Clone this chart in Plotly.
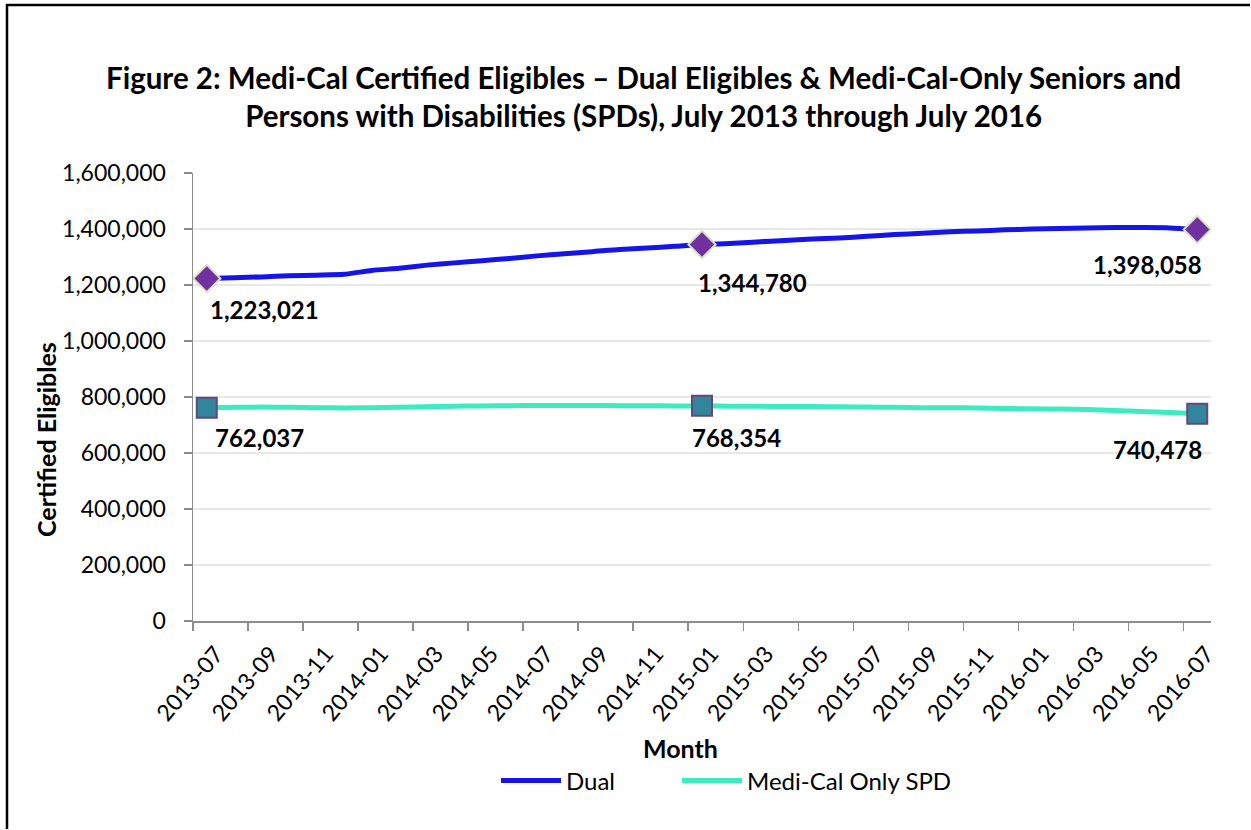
import plotly.graph_objects as go

months = [
    "2013-07", "2013-08", "2013-09", "2013-10", "2013-11", "2013-12",
    "2014-01", "2014-02", "2014-03", "2014-04", "2014-05", "2014-06",
    "2014-07", "2014-08", "2014-09", "2014-10", "2014-11", "2014-12",
    "2015-01", "2015-02", "2015-03", "2015-04", "2015-05", "2015-06",
    "2015-07", "2015-08", "2015-09", "2015-10", "2015-11", "2015-12",
    "2016-01", "2016-02", "2016-03", "2016-04", "2016-05", "2016-06",
    "2016-07",
]

dual = [
    1223021, 1226000, 1229000, 1233000, 1235000, 1238000,
    1252000, 1260000, 1271000, 1279000, 1287000, 1295000,
    1304000, 1312000, 1319000, 1327000, 1332000, 1338000,
    1344780, 1348000, 1354000, 1359000, 1364000, 1368000,
    1374000, 1380000, 1385000, 1390000, 1393000, 1397000,
    1400000, 1402000, 1404000, 1405000, 1405000, 1404000,
    1398058,
]

medi_cal_only_spd = [
    762037, 763000, 764000, 763000, 762000, 761000,
    762000, 763000, 765000, 767000, 768000, 769000,
    770000, 770000, 770000, 769000, 769000, 768000,
    768354, 767000, 767000, 766000, 766000, 765000,
    764000, 763000, 762000, 762000, 761000, 759000,
    758000, 757000, 755000, 752000, 748000, 745000,
    740478,
]

marker_idx = [0, 18, 36]
tick_label_idx = list(range(0, 37, 2))

title_text = ("Figure 2: Medi-Cal Certified Eligibles \u2013 Dual Eligibles &amp; Medi-Cal-Only Seniors and<br>"
              "Persons with Disabilities (SPDs), July 2013 through July 2016")

FONT = "Lato, 'Open Sans', sans-serif"
x = list(range(len(months)))

W, H = 1251, 830
ML, MR, MT, MB = 193, 40, 173, 209
pw, ph = W - ML - MR, H - MT - MB

def px_to_paper_x(px):
    return (px - ML) / pw

def px_to_paper_y(py):
    return (H - MB - py) / ph

fig = go.Figure()

fig.add_trace(go.Scatter(
    x=x, y=dual, name="Dual", mode="lines", legend="legend",
    line=dict(color="#1515EB", width=5, shape="spline", smoothing=0.6),
))
fig.add_trace(go.Scatter(
    x=x, y=medi_cal_only_spd, name="Medi-Cal Only SPD", mode="lines", legend="legend2",
    line=dict(color="#3DEBC0", width=5, shape="spline", smoothing=0.6),
))
fig.add_trace(go.Scatter(
    x=marker_idx, y=[dual[i] for i in marker_idx], mode="markers",
    showlegend=False, hoverinfo="skip",
    marker=dict(symbol="diamond", size=21, color="#7030A0",
                line=dict(color="#D7E4BD", width=2)),
))
fig.add_trace(go.Scatter(
    x=marker_idx, y=[medi_cal_only_spd[i] for i in marker_idx], mode="markers",
    showlegend=False, hoverinfo="skip",
    marker=dict(symbol="square", size=20, color="#31859C",
                line=dict(color="#604A7B", width=2)),
))
# invisible trace so the label axis is rendered
fig.add_trace(go.Scatter(
    x=[x[0]], y=[dual[0]], xaxis="x2", mode="markers",
    marker=dict(opacity=0), showlegend=False, hoverinfo="skip",
))

# data labels (anchored to data points)
dual_label_style = [("left", 1, -31), ("left", -6, -38), ("right", 7, -35)]
spd_label_style = [("left", 6, -30), ("left", -12, -32), ("right", 7, -36)]
for series, styles in ((dual, dual_label_style), (medi_cal_only_spd, spd_label_style)):
    for i, (anchor, xs, ys) in zip(marker_idx, styles):
        fig.add_annotation(
            x=i, y=series[i], xref="x", yref="y",
            text=f"<b>{series[i]:,}</b>", showarrow=False,
            xanchor=anchor, yanchor="middle", xshift=xs, yshift=ys,
            font=dict(family=FONT, size=24, color="#000000"),
        )

# title
fig.add_annotation(
    x=px_to_paper_x(643), y=px_to_paper_y(97), xref="paper", yref="paper",
    text=f"<b>{title_text}</b>", showarrow=False,
    xanchor="center", yanchor="middle", align="center",
    font=dict(family=FONT, size=29.5, color="#000000"),
)

# axis titles
fig.add_annotation(
    x=px_to_paper_x(46), y=px_to_paper_y(440), xref="paper", yref="paper",
    text="<b>Certified Eligibles</b>", textangle=-90, showarrow=False,
    xanchor="center", yanchor="middle",
    font=dict(family=FONT, size=25, color="#000000"),
)
fig.add_annotation(
    x=px_to_paper_x(680), y=px_to_paper_y(748), xref="paper", yref="paper",
    text="<b>Month</b>", showarrow=False,
    xanchor="center", yanchor="middle",
    font=dict(family=FONT, size=25, color="#000000"),
)

# outer border (top and left edges)
fig.add_shape(
    type="line", xref="paper", yref="paper",
    x0=px_to_paper_x(6), x1=px_to_paper_x(W - 1),
    y0=px_to_paper_y(5), y1=px_to_paper_y(5),
    line=dict(color="#000000", width=2.5), layer="above",
)
fig.add_shape(
    type="line", xref="paper", yref="paper",
    x0=px_to_paper_x(7), x1=px_to_paper_x(7),
    y0=px_to_paper_y(4), y1=px_to_paper_y(H - 1),
    line=dict(color="#000000", width=2.5), layer="above",
)

legend_common = dict(
    orientation="h", xanchor="left", yanchor="middle",
    y=px_to_paper_y(781),
    font=dict(family=FONT, size=24, color="#000000"),
    itemwidth=60, bgcolor="rgba(0,0,0,0)",
)

axis_gray = "#8C8C8C"
fig.update_layout(
    width=W, height=H,
    margin=dict(l=ML, r=MR, t=MT, b=MB),
    paper_bgcolor="#FFFFFF", plot_bgcolor="#FFFFFF",
    font=dict(family=FONT, color="#000000"),
    showlegend=True,
    legend=dict(x=px_to_paper_x(496), **legend_common),
    legend2=dict(x=px_to_paper_x(677), **legend_common),
    xaxis=dict(
        range=[-0.5, len(months) - 0.5],
        tickvals=[i - 0.5 for i in tick_label_idx],
        showticklabels=False, ticks="outside", ticklen=8, tickwidth=1.5,
        tickcolor=axis_gray, showline=True, linecolor=axis_gray, linewidth=1.5,
        showgrid=False, zeroline=False,
    ),
    xaxis2=dict(
        overlaying="x", matches="x", anchor="y", side="bottom",
        tickvals=tick_label_idx, ticktext=[months[i] for i in tick_label_idx],
        tickangle=-50, ticks="", showline=False, showgrid=False, zeroline=False,
        tickfont=dict(family=FONT, size=23, color="#000000"),
        ticklabelstandoff=14, ticklabelshift=9,
    ),
    yaxis=dict(
        range=[0, 1600000], dtick=200000, tickformat=",",
        ticks="outside", ticklen=8, tickwidth=1.5, tickcolor=axis_gray,
        showline=True, linecolor=axis_gray, linewidth=1.5,
        showgrid=True, gridcolor="#E8E8E8", gridwidth=1.5, zeroline=False,
        tickfont=dict(family=FONT, size=23, color="#000000"),
        ticklabelstandoff=13,
    ),
)

fig.write_html(
    "out.html",
    config={"displayModeBar": False, "staticPlot": True},
    post_script="document.documentElement.style.margin='0';"
                "document.documentElement.style.overflow='hidden';"
                "document.body.style.margin='0';"
                "document.body.style.overflow='hidden';",
)
